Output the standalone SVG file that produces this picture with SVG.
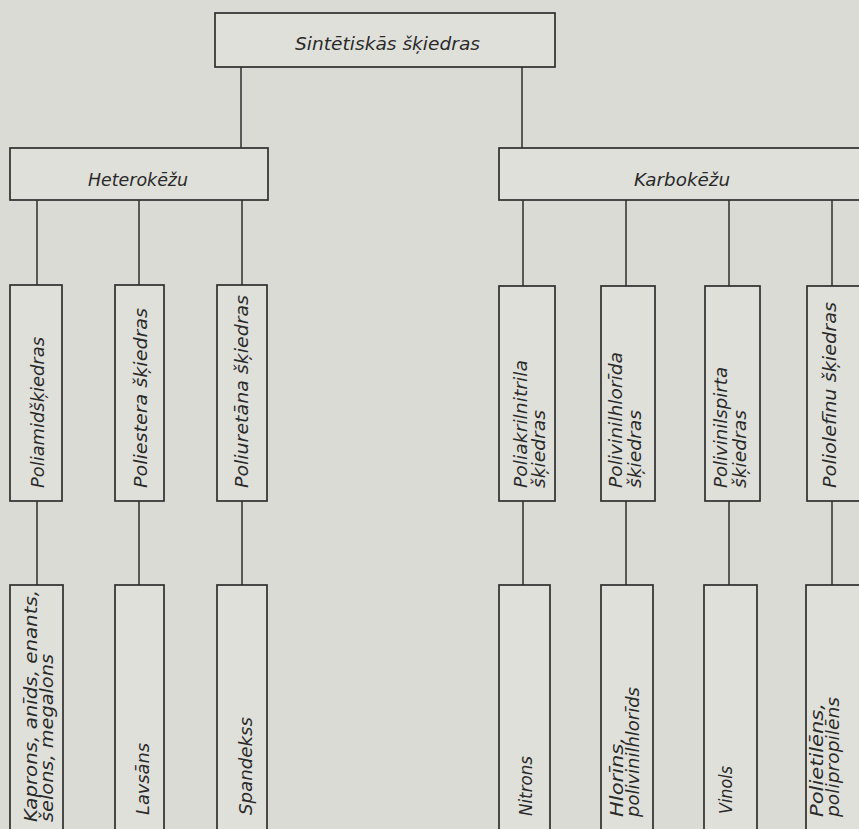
<svg xmlns="http://www.w3.org/2000/svg" width="859" height="829" viewBox="0 0 859 829">
<style>
.bg { fill: #dbdbd6; }
.box { fill: #e0e0db; stroke: #2e2e2e; stroke-width: 1.7; }
.conn line { stroke: #2e2e2e; stroke-width: 1.5; }
text { font-family: "DejaVu Sans", "Liberation Sans", sans-serif; font-style: oblique; font-size: 18px; fill: #2a2a2a; }
</style>
<rect class="bg" x="0" y="0" width="859" height="829"/>

<g id="connectors" class="conn">
  <line x1="241" y1="67" x2="241" y2="148"/>
  <line x1="522" y1="67" x2="522" y2="148"/>
  <line x1="37" y1="200" x2="37" y2="285"/>
  <line x1="139" y1="200" x2="139" y2="285"/>
  <line x1="242" y1="200" x2="242" y2="285"/>
  <line x1="37" y1="501" x2="37" y2="585"/>
  <line x1="139" y1="501" x2="139" y2="585"/>
  <line x1="242" y1="501" x2="242" y2="585"/>
  <line x1="523" y1="200" x2="523" y2="286"/>
  <line x1="626" y1="200" x2="626" y2="286"/>
  <line x1="729" y1="200" x2="729" y2="286"/>
  <line x1="832" y1="200" x2="832" y2="286"/>
  <line x1="523" y1="501" x2="523" y2="585"/>
  <line x1="626" y1="501" x2="626" y2="585"/>
  <line x1="729" y1="501" x2="729" y2="585"/>
  <line x1="832" y1="501" x2="832" y2="585"/>
</g>

<g id="root">
  <rect class="box" x="215" y="13" width="340" height="54"/>
  <text x="295" y="50" textLength="185" lengthAdjust="spacingAndGlyphs">Sintētiskās šķiedras</text>
</g>

<g id="heterokezu">
  <rect class="box" x="10" y="148" width="258" height="52"/>
  <text x="88" y="186" textLength="100" lengthAdjust="spacingAndGlyphs">Heterokēžu</text>
</g>
<g id="karbokezu">
  <rect class="box" x="499" y="148" width="380" height="52"/>
  <text x="634" y="186" textLength="96" lengthAdjust="spacingAndGlyphs">Karbokēžu</text>
</g>

<g id="poliamid">
  <rect class="box" x="10" y="285" width="52" height="216"/>
  <text transform="translate(44,488) rotate(-90)" textLength="151" lengthAdjust="spacingAndGlyphs">Poliamidšķiedras</text>
</g>
<g id="poliestera">
  <rect class="box" x="115" y="285" width="49" height="216"/>
  <text transform="translate(147,488) rotate(-90)" textLength="180" lengthAdjust="spacingAndGlyphs">Poliestera  šķiedras</text>
</g>
<g id="poliuretana">
  <rect class="box" x="217" y="285" width="50" height="216"/>
  <text transform="translate(248,488) rotate(-90)" textLength="193" lengthAdjust="spacingAndGlyphs">Poliuretāna  šķiedras</text>
</g>

<g id="poliakrilnitrila">
  <rect class="box" x="499" y="286" width="56" height="215"/>
  <text transform="translate(527,488) rotate(-90)" textLength="128" lengthAdjust="spacingAndGlyphs">Poliakrilnitrila</text>
  <text transform="translate(545,488) rotate(-90)" textLength="78" lengthAdjust="spacingAndGlyphs">šķiedras</text>
</g>
<g id="polivinilhlorida">
  <rect class="box" x="601" y="286" width="54" height="215"/>
  <text transform="translate(622,488) rotate(-90)" textLength="136" lengthAdjust="spacingAndGlyphs">Polivinilhlorīda</text>
  <text transform="translate(641,488) rotate(-90)" textLength="78" lengthAdjust="spacingAndGlyphs">šķiedras</text>
</g>
<g id="polivinilspirta">
  <rect class="box" x="705" y="286" width="55" height="215"/>
  <text transform="translate(727,488) rotate(-90)" textLength="121" lengthAdjust="spacingAndGlyphs">Polivinilspirta</text>
  <text transform="translate(746,488) rotate(-90)" textLength="78" lengthAdjust="spacingAndGlyphs">šķiedras</text>
</g>
<g id="poliolefinu">
  <rect class="box" x="807" y="286" width="56" height="215"/>
  <text transform="translate(836,488) rotate(-90)" textLength="186" lengthAdjust="spacingAndGlyphs">Poliolefīnu  šķiedras</text>
</g>

<g id="kaprons">
  <rect class="box" x="10" y="585" width="53" height="260"/>
  <text transform="translate(37,822) rotate(-90)" textLength="232" lengthAdjust="spacingAndGlyphs">Kaprons, anīds, enants,</text>
  <text transform="translate(53,822) rotate(-90)" textLength="168" lengthAdjust="spacingAndGlyphs">šelons, megalons</text>
</g>
<g id="lavsans">
  <rect class="box" x="115" y="585" width="49" height="260"/>
  <text transform="translate(149,815) rotate(-90)" textLength="72" lengthAdjust="spacingAndGlyphs">Lavsāns</text>
</g>
<g id="spandekss">
  <rect class="box" x="217" y="585" width="50" height="260"/>
  <text transform="translate(252,815) rotate(-90)" textLength="98" lengthAdjust="spacingAndGlyphs">Spandekss</text>
</g>

<g id="nitrons">
  <rect class="box" x="499" y="585" width="51" height="260"/>
  <text transform="translate(532,816) rotate(-90)" textLength="60" lengthAdjust="spacingAndGlyphs">Nitrons</text>
</g>
<g id="hlorins">
  <rect class="box" x="601" y="585" width="52" height="260"/>
  <text transform="translate(623,817) rotate(-90)" textLength="80" lengthAdjust="spacingAndGlyphs">Hlorīns,</text>
  <text transform="translate(639,817) rotate(-90)" textLength="130" lengthAdjust="spacingAndGlyphs">polivinilhlorīds</text>
</g>
<g id="vinols">
  <rect class="box" x="704" y="585" width="53" height="260"/>
  <text transform="translate(732,814) rotate(-90)" textLength="48" lengthAdjust="spacingAndGlyphs">Vinols</text>
</g>
<g id="polietilens">
  <rect class="box" x="806" y="585" width="57" height="260"/>
  <text transform="translate(823,817) rotate(-90)" textLength="114" lengthAdjust="spacingAndGlyphs">Polietilēns,</text>
  <text transform="translate(839,817) rotate(-90)" textLength="120" lengthAdjust="spacingAndGlyphs">polipropilēns</text>
</g>
</svg>
